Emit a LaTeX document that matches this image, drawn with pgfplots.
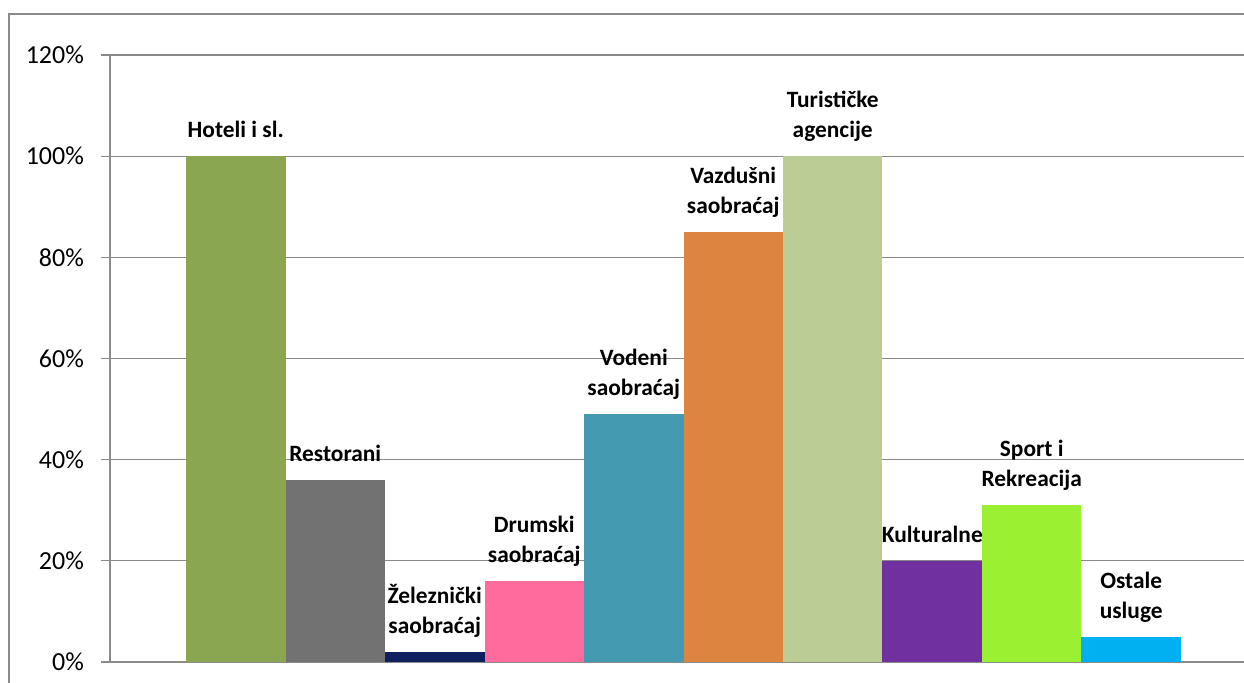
\documentclass[border=0pt]{standalone}
\usepackage{pgfplots}
\pgfplotsset{compat=1.18}
\usepackage{fontspec}
\setmainfont{Carlito}
\definecolor{c1}{HTML}{8BA650}
\definecolor{c2}{HTML}{727272}
\definecolor{c3}{HTML}{0F2060}
\definecolor{c4}{HTML}{FF6B9D}
\definecolor{c5}{HTML}{449AB1}
\definecolor{c6}{HTML}{DD8441}
\definecolor{c7}{HTML}{BBCD95}
\definecolor{c8}{HTML}{7030A0}
\definecolor{c9}{HTML}{9BF032}
\definecolor{c10}{HTML}{00B0F0}
\definecolor{gridgray}{HTML}{8A8A8A}
\begin{document}
\begin{tikzpicture}
\useasboundingbox (0,0) rectangle (622pt,341.5pt);
\draw[gridgray, line width=1pt] (4.5pt,-10pt) -- (4.5pt,334.5pt) -- (640pt,334.5pt);
\begin{axis}[
  at={(55pt,10.5pt)}, anchor=south west,
  scale only axis, width=573.5pt, height=303.5pt,
  xmin=-0.264, xmax=11.264, ymin=0, ymax=120,
  ytick={0,20,...,120}, xtick=\empty,
  yticklabel={\pgfmathprintnumber{\tick}\%},
  /pgf/number format/assume math mode=true,
  yticklabel style={font=\fontsize{13}{15}\selectfont, xshift=-5pt},
  axis lines*=left,
  axis line style={gridgray, line width=0.65pt},
  tick align=outside, major tick length=4.5pt,
  tick style={gridgray, line width=0.65pt},
  ymajorgrids, grid style={gridgray, line width=0.65pt},
  ybar, bar width=1, bar shift=0pt,
  every axis plot/.append style={draw=none},
  nodes near coords style={anchor=south, align=center, inner sep=0pt, text depth=0pt, yshift=9pt, font=\fontsize{11.7}{15}\selectfont\bfseries, text=black},
]
\addplot[fill=c1, nodes near coords={Hoteli i sl.}] coordinates {(1,100)};
\addplot[fill=c2, nodes near coords={Restorani}] coordinates {(2,36)};
\addplot[fill=c3, nodes near coords={Železnički\\saobraćaj}] coordinates {(3,2)};
\addplot[fill=c4, nodes near coords={Drumski\\saobraćaj}] coordinates {(4,16)};
\addplot[fill=c5, nodes near coords={Vodeni\\saobraćaj}] coordinates {(5,49)};
\addplot[fill=c6, nodes near coords={Vazdušni\\saobraćaj}] coordinates {(6,85)};
\addplot[fill=c7, nodes near coords={Turističke\\agencije}] coordinates {(7,100)};
\addplot[fill=c8, nodes near coords={Kulturalne}] coordinates {(8,20)};
\addplot[fill=c9, nodes near coords={Sport i\\Rekreacija}] coordinates {(9,31)};
\addplot[fill=c10, nodes near coords={Ostale\\usluge}] coordinates {(10,5)};
\end{axis}
\end{tikzpicture}
\end{document}
